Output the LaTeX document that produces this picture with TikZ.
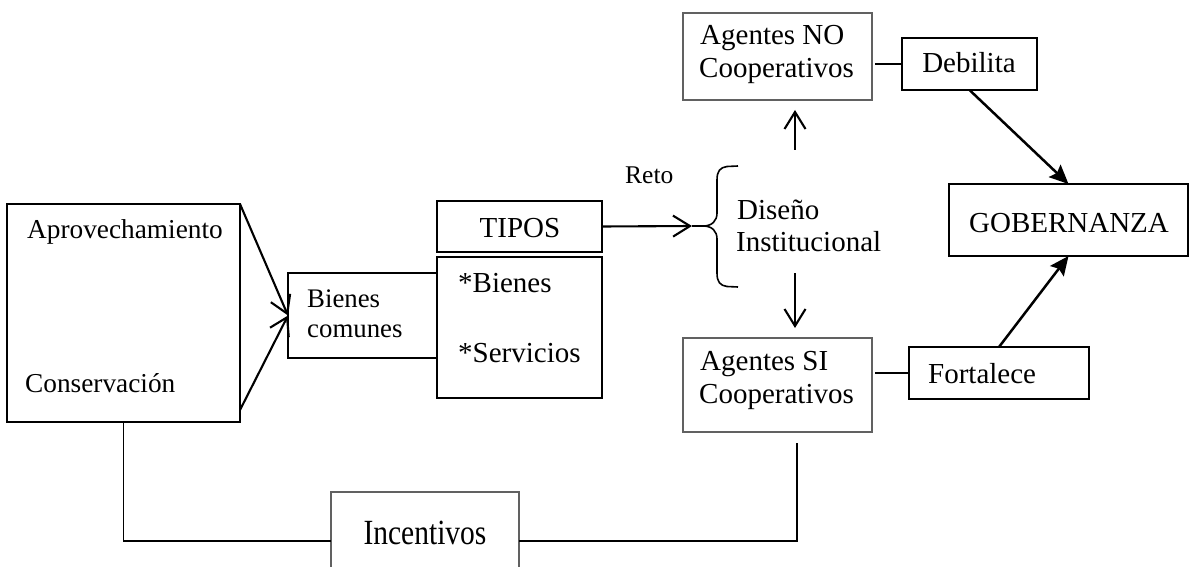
\documentclass[tikz,border=0pt]{standalone}
\usepackage{fontspec}
\setmainfont{Liberation Serif}
\usetikzlibrary{arrows.meta,calc}

\begin{document}
\begin{tikzpicture}[x=1pt,y=-1pt,
  box/.style={draw,line width=1.8pt,inner sep=0pt,outer sep=0pt},
  gbox/.style={draw=black!62,line width=1.5pt,inner sep=0pt,outer sep=0pt},
  txt/.style={anchor=base west,inner sep=0pt,font=\fontsize{29}{31}\selectfont},
  ctxt/.style={anchor=base,inner sep=0pt,font=\fontsize{29}{31}\selectfont},
  openarrow/.style={line width=2.1pt,-{Straight Barb[length=17pt,width=21pt,line width=2.1pt]}},
  fillarrow/.style={line width=2.5pt,-{Stealth[length=19pt,width=17pt,inset=3pt]}},
  link/.style={line width=1.9pt}
]
\clip (0,0) rectangle (1191,567);
\fill[white] (0,0) rectangle (1191,567);

% left block: use and conservation
\node[box,minimum width=233pt,minimum height=218pt] (src) at (123.5,313) {};
\node[txt,font=\fontsize{27.3}{29}\selectfont] (aprov) at (27,238) {Aprovechamiento};
\node[txt,font=\fontsize{27.3}{29}\selectfont] (conserv) at (25,392) {Conservación};

% common goods and their types
\node[box,minimum width=149pt,minimum height=85pt] (bc) at (362.5,315.5) {};
\node[txt,font=\fontsize{26.8}{29}\selectfont] (bc1) at (307,307) {Bienes};
\node[txt,font=\fontsize{26.8}{29}\selectfont] (bc2) at (307,337) {comunes};

\node[box,minimum width=165pt,minimum height=51pt] (tipos) at (519.5,226.5) {};
\node[ctxt] (tiposT) at (520,237) {TIPOS};

\node[box,minimum width=165pt,minimum height=141pt] (bs) at (519.5,327.5) {};
\node[txt] (bs1) at (458,292) {*Bienes};
\node[txt] (bs2) at (458,362) {*Servicios};

% institutional design
\node[txt,font=\fontsize{25.5}{27}\selectfont] (reto) at (625,183) {Reto};
\coordinate (brtip) at (692,226);
\draw[line width=1.6pt]
  (738,166) -- (727,166.5) .. controls (720,167.5) and (717,171) .. (717,180)
  -- (717,213) .. controls (717,221) and (712,226) .. (703,226) -- (brtip);
\draw[line width=1.6pt]
  (738,287) -- (727,286.5) .. controls (720,285.5) and (717,282) .. (717,273)
  -- (717,239) .. controls (717,231) and (712,226) .. (703,226);
\node[txt] (dis1) at (737,219) {Diseño};
\node[txt] (dis2) at (736,251) {Institucional};

% agents
\node[gbox,minimum width=189pt,minimum height=87pt] (agno) at (777.5,56.5) {};
\node[txt] (agno1) at (700,45) {Agentes NO};
\node[txt] (agno2) at (699,78) {Cooperativos};

\node[gbox,minimum width=189pt,minimum height=94pt] (agsi) at (777.5,385) {};
\node[txt] (agsi1) at (700,370) {Agentes SI};
\node[txt] (agsi2) at (699,403) {Cooperativos};

\node[box,minimum width=135pt,minimum height=52pt] (deb) at (969.5,64) {};
\node[ctxt] (debT) at (969,73) {Debilita};

\node[box,minimum width=180pt,minimum height=52pt] (fort) at (999,373) {};
\node[txt] (fortT) at (928,383) {Fortalece};

\node[box,minimum width=239pt,minimum height=72pt] (gob) at (1068.5,220) {};
\node[ctxt] (gobT) at (1069,232) {GOBERNANZA};

% incentives
\node[gbox,minimum width=188pt,minimum height=98pt] (inc) at (425,541) {};
\node[ctxt,font=\fontsize{29.5}{31}\selectfont,yscale=1.2] (incT) at (425,544) {Incentivos};

% connectors
\draw[openarrow] (src.north east) -- (bc.west);
\draw[openarrow] ($(src.south east)+(0,-12)$) -- (bc.west);
\draw[openarrow] (tipos.east) -- (brtip);

\coordinate (upS) at (795,150);
\coordinate (upE) at (795,110);
\coordinate (dnS) at (795,273);
\coordinate (dnE) at (795,328);
\draw[openarrow] (upS) -- (upE);
\draw[openarrow] (dnS) -- (dnE);

\draw[link,shorten <=3pt] (agno.east |- deb.west) -- (deb.west);
\draw[link,shorten <=3pt] (agsi.east |- fort.west) -- (fort.west);

\draw[fillarrow] (deb.south) -- (gob.north);
\draw[fillarrow] (fort.north) -- (gob.south);

\coordinate (rvS) at (797,443);
\draw[link] (src.south) |- (inc.west);
\draw[link] (inc.east) -| (rvS);
\end{tikzpicture}
\end{document}
